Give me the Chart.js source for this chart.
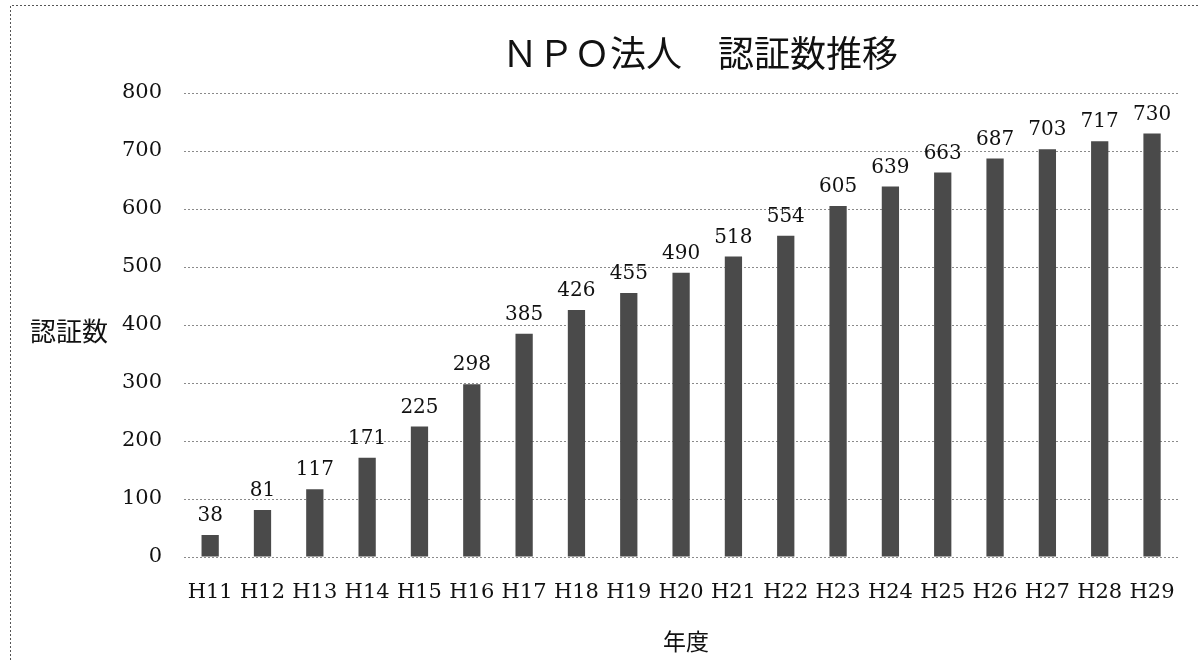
<!DOCTYPE html>
<html lang="ja">
<head>
<meta charset="utf-8">
<title>NPO法人 認証数推移</title>
<script src="https://cdn.jsdelivr.net/npm/chart.js@4.4.1/dist/chart.umd.min.js"></script>
<style>
    html, body { margin: 0; padding: 0; background: #fff; }
    #wrap { width: 1198px; height: 660px; }
</style>
</head>
<body>
<div id="wrap"><canvas id="npoChart" width="1198" height="660"></canvas></div>
<script>
const years = ['H11', 'H12', 'H13', 'H14', 'H15', 'H16', 'H17', 'H18', 'H19', 'H20',
    'H21', 'H22', 'H23', 'H24', 'H25', 'H26', 'H27', 'H28', 'H29'];
const counts = [38, 81, 117, 171, 225, 298, 385, 426, 455, 490,
    518, 554, 605, 639, 663, 687, 703, 717, 730];
const yTicks = [0, 100, 200, 300, 400, 500, 600, 700, 800];

const titleText = 'ＮＰＯ法人　認証数推移';
const yTitle = '認証数';
const xTitle = '年度';

const serif = '"DejaVu Serif", "Liberation Serif", serif';
const cjk = '"Noto Sans CJK JP", "Noto Sans CJK SC", sans-serif';

// titles, frame and value labels
const decorPlugin = {
    id: 'decor',
    beforeDraw(chart) {
        const ctx = chart.ctx;
        ctx.save();
        ctx.strokeStyle = '#555';
        ctx.lineWidth = 1;
        ctx.setLineDash([2, 2]);
        ctx.beginPath();
        ctx.moveTo(10.5, 660);
        ctx.lineTo(10.5, 5.5);
        ctx.lineTo(1198, 5.5);
        ctx.stroke();
        ctx.restore();
    },
    afterDraw(chart) {
        const ctx = chart.ctx;
        const area = chart.chartArea;
        ctx.save();
        ctx.fillStyle = '#111';
        ctx.textAlign = 'center';
        ctx.textBaseline = 'middle';
        ctx.font = '36px ' + cjk;
        ctx.fillText(titleText, 700, 53);
        ctx.font = '26px ' + cjk;
        ctx.fillText(yTitle, 69, (area.top + area.bottom) / 2 + 6);
        ctx.font = '23px ' + cjk;
        ctx.fillText(xTitle, 686, 641);

        ctx.font = '20px ' + serif;
        ctx.textBaseline = 'bottom';
        const meta = chart.getDatasetMeta(0);
        meta.data.forEach((bar, i) => {
            ctx.fillText(String(counts[i]), bar.x, bar.y - 9);
        });
        ctx.restore();
    }
};

const ctx = document.getElementById('npoChart').getContext('2d');
new Chart(ctx, {
    type: 'bar',
    data: {
        labels: years,
        datasets: [{
            label: yTitle,
            data: counts,
            backgroundColor: '#4a4a4a',
            borderWidth: 0,
            categoryPercentage: 1,
            barPercentage: 0.33
        }]
    },
    options: {
        responsive: false,
        animation: false,
        layout: {
            padding: { left: 100, right: 17, top: 93, bottom: 0 }
        },
        scales: {
            x: {
                grid: { display: false, drawTicks: false },
                border: { display: false },
                ticks: {
                    color: '#111',
                    font: { family: serif, size: 21 },
                    padding: 23,
                    maxRotation: 0,
                    autoSkip: false
                },
                afterFit(scale) {
                    scale.height = 103;
                }
            },
            y: {
                min: 0,
                max: 800,
                afterBuildTicks(scale) {
                    scale.ticks = yTicks.map(v => ({ value: v }));
                },
                grid: {
                    color: '#8a8a8a',
                    lineWidth: 1,
                    drawTicks: false
                },
                border: { display: false, dash: [2, 2] },
                ticks: {
                    color: '#111',
                    font: { family: serif, size: 21 },
                    padding: 22
                },
                afterFit(scale) {
                    scale.width = 84;
                }
            }
        },
        plugins: {
            legend: { display: false },
            title: { display: false },
            tooltip: { enabled: false }
        }
    },
    plugins: [decorPlugin]
});
</script>
</body>
</html>
